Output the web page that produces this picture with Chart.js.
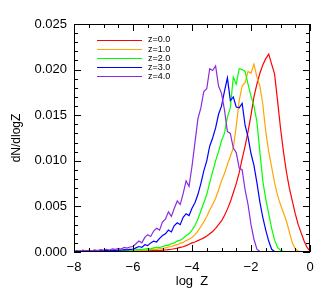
<!DOCTYPE html>
<html>
<head>
<meta charset="utf-8">
<script src="https://cdn.jsdelivr.net/npm/chart.js@4.4.0/dist/chart.umd.min.js"></script>
<style>
  html, body { margin: 0; padding: 0; background: #fff; }
  #wrap { width: 332px; height: 299px; }
</style>
</head>
<body>
<div id="wrap"><canvas id="metals"></canvas></div>
<script>
  // bin centres in log Z, 0.1 dex wide
  var logZ = [];
  for (var i = 0; i <= 80; i++) logZ.push(Math.round((-8 + i * 0.1) * 10) / 10);

  var labels = ['z=0.0', 'z=1.0', 'z=2.0', 'z=3.0', 'z=4.0'];
  var colors = ['#ff0000', '#ffa500', '#00ff00', '#0000ff', '#8a2be2'];

  // dN/dlogZ in units of 1e-3
  var z0 = [
    0.05,0.03,0.06,0.02,0.04,0.05,0.03,0.06,0.04,0.05,0.07,0.04,0.06,0.05,0.08,0.06,0.07,0.09,0.06,0.08,0.10,
    0.09,0.11,0.10,0.13,0.12,0.15,0.14,0.17,0.16,0.20,
    0.22,0.27,0.30,0.36,0.42,0.50,0.58,0.70,0.85,1.00,
    1.10,1.25,1.40,1.55,1.75,2.00,2.25,2.60,3.00,3.40,
    4.00,4.70,5.50,6.50,7.50,8.70,10.2,11.6,13.2,15.0,
    17.0,18.4,19.6,20.5,21.2,21.7,20.6,19.5,16.6,13.6,
    11.0,8.80,7.00,5.60,4.20,3.00,2.10,1.20,0.50,0.10
  ];
  var z1 = [
    0.04,0.06,0.03,0.07,0.05,0.04,0.08,0.06,0.05,0.09,0.07,0.08,0.10,0.07,0.11,0.09,0.12,0.10,0.14,0.12,0.15,
    0.17,0.15,0.20,0.22,0.20,0.26,0.30,0.28,0.35,0.40,
    0.45,0.55,0.60,0.72,0.80,0.95,1.05,1.25,1.40,1.60,
    1.90,2.30,2.80,3.30,3.90,4.60,5.20,5.90,6.80,7.80,
    8.60,9.60,10.5,11.4,13.8,16.6,18.2,18.6,19.8,19.6,
    20.6,19.2,18.2,16.2,13.2,11.0,9.30,7.60,6.20,5.20,
    4.30,3.40,2.20,1.00,0.35,0.10,0.03,0.01,0,0
  ];
  var z2 = [
    0.05,0.08,0.04,0.07,0.09,0.06,0.10,0.08,0.12,0.09,0.13,0.11,0.14,0.12,0.16,0.15,0.18,0.16,0.20,0.19,0.23,
    0.25,0.28,0.26,0.33,0.38,0.35,0.45,0.50,0.48,0.60,
    0.70,0.75,0.90,1.00,1.20,1.30,1.50,1.80,2.00,2.40,
    2.90,3.60,4.50,5.40,6.30,7.60,8.80,10.0,11.0,12.2,
    13.0,14.8,15.8,19.2,18.4,20.1,20.0,19.8,18.4,17.1,
    16.0,14.3,11.0,7.80,5.80,4.20,2.60,1.30,0.50,0.20,
    0.05,0.02,0,0,0,0,0,0,0,0
  ];
  var z3 = [
    0.08,0.05,0.10,0.07,0.12,0.09,0.11,0.14,0.10,0.15,0.13,0.17,0.14,0.20,0.18,0.22,0.19,0.25,0.23,0.28,0.30,
    0.45,0.60,0.50,0.80,0.70,1.00,1.20,1.10,1.50,1.80,
    2.00,2.40,2.20,2.90,3.20,3.00,3.80,4.20,4.00,4.80,
    5.40,6.30,7.50,8.90,10.0,11.6,12.5,13.6,15.1,16.0,
    17.6,19.1,16.6,17.0,15.9,15.8,16.3,13.9,12.6,10.8,
    9.50,7.60,5.50,3.80,2.40,1.20,0.30,0.05,0,0,
    0,0,0,0,0,0,0,0,0,0
  ];
  var z4 = [
    0.10,0.15,0.08,0.20,0.12,0.18,0.10,0.22,0.16,0.25,0.20,0.30,0.22,0.35,0.28,0.40,0.32,0.50,0.42,0.55,0.60,
    0.90,1.20,1.00,1.60,1.90,1.70,2.30,2.60,2.40,3.30,
    3.60,4.40,3.90,4.80,5.60,5.20,6.40,7.80,7.20,9.40,
    12.0,14.6,15.8,17.6,17.9,20.1,19.9,20.4,18.2,17.4,
    15.6,13.2,13.0,11.4,10.9,9.20,9.00,6.80,5.20,3.00,
    1.40,0.30,0.05,0,0,0,0,0,0,0,
    0,0,0,0,0,0,0,0,0,0
  ];
  var series = [z0, z1, z2, z3, z4];

  var xTicks = [-8, -6, -4, -2, 0];
  var yTicks = [0, 0.005, 0.010, 0.015, 0.020, 0.025];

  var FONT = 'Liberation Sans, Arial, Helvetica, sans-serif';

  // IDL-like frame: box, inward ticks on all four sides, and the line legend
  var idlFrame = {
    id: 'idlFrame',
    afterDraw: function (chart) {
      var ctx = chart.ctx, a = chart.chartArea;
      var xs = chart.scales.x, ys = chart.scales.y;
      ctx.save();
      ctx.strokeStyle = '#000';
      ctx.lineWidth = 1;
      ctx.strokeRect(Math.round(a.left) + 0.5, Math.round(a.top) + 0.5,
                     Math.round(a.right - a.left) - 1, Math.round(a.bottom - a.top) - 1);
      ctx.beginPath();
      for (var v = -8; v <= 0.001; v += 0.5) {
        var px = Math.round(xs.getPixelForValue(v)) + 0.5;
        var len = Math.abs(v - Math.round(v / 2) * 2) < 0.01 ? 7 : 4;
        ctx.moveTo(px, a.bottom); ctx.lineTo(px, a.bottom - len);
        ctx.moveTo(px, a.top); ctx.lineTo(px, a.top + len);
      }
      for (var k = 0; k <= 25; k++) {
        var py = Math.round(ys.getPixelForValue(k * 0.001)) + 0.5;
        var ln = k % 5 === 0 ? 7 : 4;
        ctx.moveTo(a.left, py); ctx.lineTo(a.left + ln, py);
        ctx.moveTo(a.right, py); ctx.lineTo(a.right - ln, py);
      }
      ctx.stroke();

      ctx.font = '9px ' + FONT;
      ctx.textBaseline = 'middle';
      chart.data.datasets.forEach(function (ds, i) {
        var ly = 39.5 + i * 9.1;
        ctx.strokeStyle = ds.borderColor;
        ctx.beginPath();
        ctx.moveTo(97, Math.round(ly) + 0.5);
        ctx.lineTo(142, Math.round(ly) + 0.5);
        ctx.stroke();
        ctx.fillStyle = '#000';
        ctx.fillText(ds.label, 148, ly + 0.5);
      });
      ctx.restore();
    }
  };

  var datasets = series.map(function (vals, i) {
    return {
      label: labels[i],
      data: vals.map(function (v, j) { return { x: logZ[j], y: v / 1000 }; }),
      borderColor: colors[i],
      borderWidth: 1.2,
      pointRadius: 0,
      tension: 0,
      fill: false,
      order: series.length - i
    };
  });

  new Chart(document.getElementById('metals'), {
    type: 'line',
    data: { datasets: datasets },
    plugins: [idlFrame],
    options: {
      responsive: true,
      maintainAspectRatio: false,
      animation: false,
      events: [],
      layout: { padding: { top: 24, right: 22, left: 0, bottom: 0 } },
      plugins: { legend: { display: false }, tooltip: { enabled: false } },
      scales: {
        x: {
          type: 'linear',
          min: -8, max: 0,
          afterFit: function (s) { s.height = 47; },
          afterBuildTicks: function (s) { s.ticks = xTicks.map(function (v) { return { value: v }; }); },
          grid: { display: false, drawTicks: false },
          border: { display: false },
          ticks: {
            color: '#000', padding: 8, maxRotation: 0,
            font: { family: FONT, size: 13 },
            callback: function (v) { return v < 0 ? '\u2212' + Math.abs(v) : String(v); }
          },
          title: { display: true, text: 'log  Z', color: '#000', font: { family: FONT, size: 13 }, padding: { top: 0, bottom: 10 } }
        },
        y: {
          min: 0, max: 0.025,
          afterFit: function (s) { s.width = 74; },
          afterBuildTicks: function (s) { s.ticks = yTicks.map(function (v) { return { value: v }; }); },
          grid: { display: false, drawTicks: false },
          border: { display: false },
          ticks: {
            color: '#000', padding: 7,
            font: { family: FONT, size: 13 },
            callback: function (v) { return v.toFixed(3); }
          },
          title: { display: true, text: 'dN/dlogZ', color: '#000', font: { family: FONT, size: 12 }, padding: { top: 9, bottom: 0 } }
        }
      }
    }
  });
</script>
</body>
</html>
